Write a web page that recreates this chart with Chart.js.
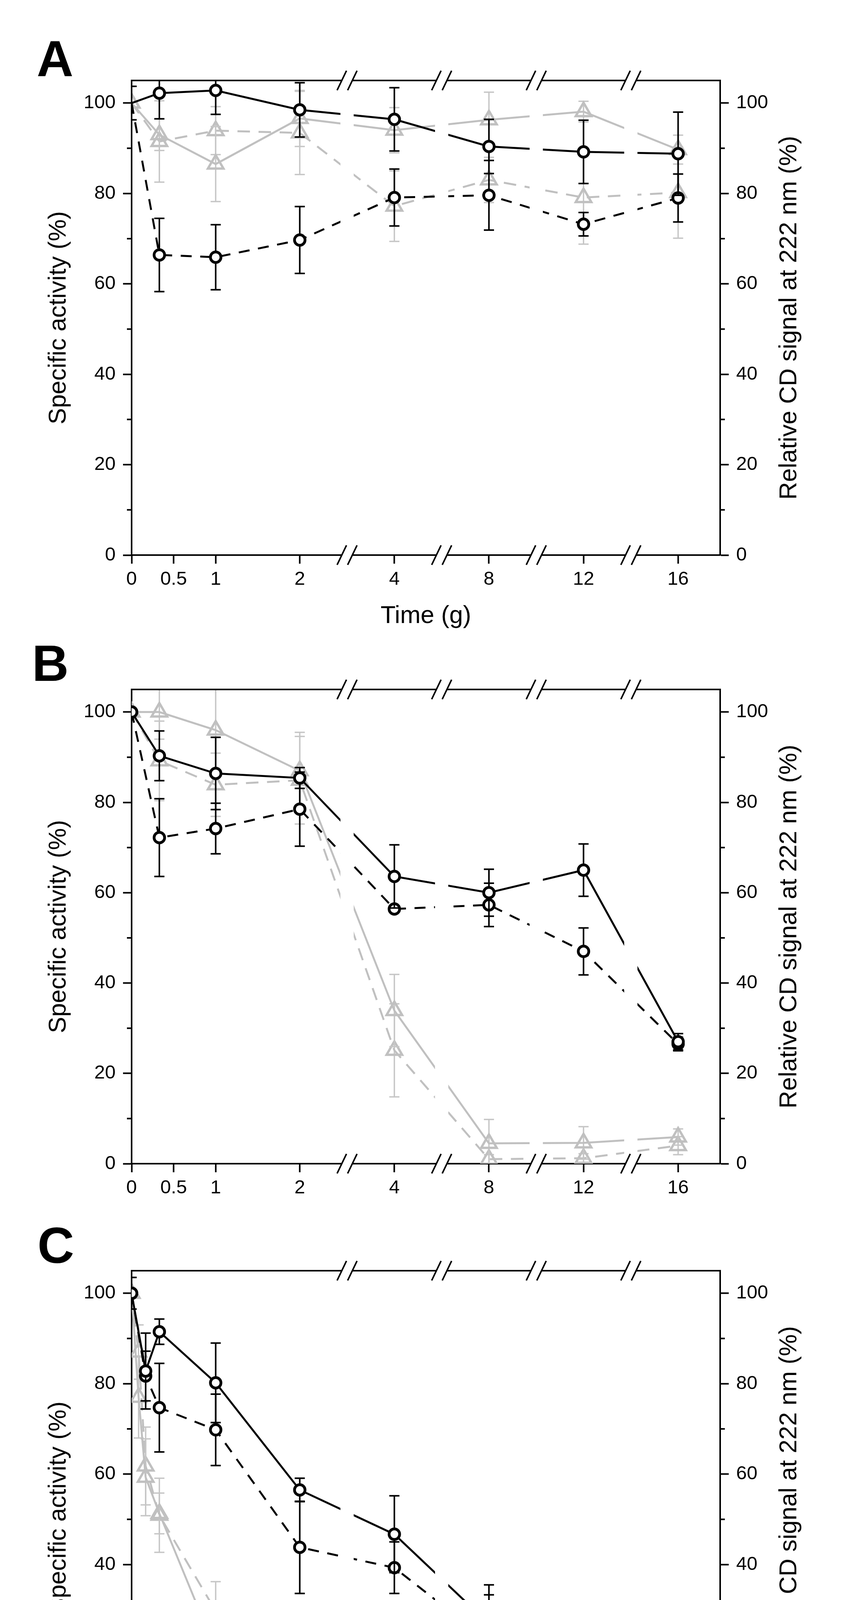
<!DOCTYPE html>
<html lang="en">
<head>
<meta charset="utf-8">
<title>Specific activity and CD signal over time</title>
<script src="https://cdn.jsdelivr.net/npm/chart.js@4.4.1/dist/chart.umd.min.js"></script>
<style>
    html, body { margin: 0; padding: 0; background: #fff; }
    body { position: relative; width: 2156px; height: 4730px; overflow: hidden; }
    canvas { position: absolute; left: 0; }
</style>
</head>
<body>
<canvas id="chartA" width="2156" height="1640" style="top:0px"></canvas>
<canvas id="chartB" width="2156" height="1460" style="top:1640px"></canvas>
<canvas id="chartC" width="2156" height="1630" style="top:3100px"></canvas>
<script>
// x axis: linear up to 2 h, then broken between every tick
const tickTimes  = [0, 0.5, 1, 2, 4, 8, 12, 16];
const tickLabels = ['0', '0.5', '1', '2', '4', '8', '12', '16'];
const tickSlots  = [0, 0.5, 1, 2, 3.125, 4.25, 5.375, 6.5];
const breakSlots = [2.5625, 3.6875, 4.8125, 5.9375];
const yTicks = [0, 20, 40, 60, 80, 100];
const yMinorTicks = [10, 30, 50, 70, 90];

// panel A
const timesA = [0, 0.33, 1, 2, 4, 8, 12, 16];
const aBlackSolid    = [100, 102.2, 102.8, 98.5, 96.4, 90.4, 89.2, 88.8];
const aBlackSolidErr = [3.7, 5.7, 5.3, 6.0, 7.0, 6.0, 7.0, 9.2];
const aBlackDash     = [100, 66.4, 65.9, 69.7, 79.1, 79.6, 73.2, 79.0];
const aBlackDashErr  = [0, 8.1, 7.2, 7.4, 6.3, 7.7, 2.6, 5.3];
const aGreySolid     = [100, 93.0, 86.5, 96.6, 94.0, 96.3, 98.1, 89.7];
const aGreySolidErr  = [0, 3.5, 8.3, 6.2, 5.0, 6.1, 2.3, 3.2];
const aGreyDash      = [100, 91.5, 93.9, 93.4, 77.2, 83.0, 79.1, 80.2];
const aGreyDashErr   = [0, 9.0, 5.3, 9.2, 7.8, 5.0, 10.3, 10.1];

// panel B
const timesB = [0, 0.33, 1, 2, 4, 8, 12, 16];
const bBlackSolid    = [100, 90.3, 86.4, 85.4, 63.6, 60.0, 65.0, 27.0];
const bBlackSolidErr = [0, 5.5, 8.0, 2.3, 7.0, 5.2, 5.8, 1.8];
const bBlackDash     = [100, 72.2, 74.2, 78.5, 56.4, 57.3, 47.0, 26.5];
const bBlackDashErr  = [0, 8.6, 5.6, 8.2, 0.6, 4.8, 5.2, 1.5];
const bGreySolid     = [100, 100, 96.0, 87.0, 33.9, 4.5, 4.6, 5.9];
const bGreySolidErr  = [0, 6.0, 9.5, 8.5, 8.0, 5.3, 3.6, 1.8];
const bGreyDash      = [100, 89.2, 83.9, 84.9, 25.1, 1.0, 1.2, 4.0];
const bGreyDashErr   = [0, 8.8, 7.0, 9.7, 10.3, 1.0, 1.0, 2.0];

// panel C
const timesCBlack = [0, 0.167, 0.33, 1, 2, 4, 8, 12, 16];
const timesCGrey  = [0, 0.083, 0.167, 0.33, 1, 2, 4, 8, 12, 16];
const cBlackSolid    = [100, 82.8, 91.5, 80.2, 56.5, 46.7, 26.9, 20.2, 2.7];
const cBlackSolidErr = [3.5, 8.4, 2.8, 8.8, 2.6, 8.5, 8.6, 6.0, 0.5];
const cBlackDash     = [100, 81.7, 74.7, 69.8, 43.8, 39.3, 22.9, 19.8, 2.7];
const cBlackDashErr  = [0, 5.5, 9.8, 7.9, 10.2, 5.7, 10.4, 7.0, 0.5];
const cGreySolid     = [100, 77.0, 59.3, 51.3, 21.0, 18.8, 2.0, 0.3, 4.3, 6.3];
const cGreySolidErr  = [0, 9.0, 8.5, 4.5, 6.5, 5.5, 1.5, 1.0, 1.0, 1.5];
const cGreyDash      = [100, 87.0, 61.8, 50.9, 29.7, 18.5, 3.8, 0.5, 0.5, 6.9];
const cGreyDashErr   = [0, 6.0, 8.6, 8.2, 6.5, 6.8, 2.0, 1.5, 1.0, 1.8];

const styles = {
    blackSolid: { color: '#000', dash: [], point: 'circle', radius: 13.5, pw: 7, fill: '#fff', errColor: '#000', errWidth: 4 },
    blackDash:  { color: '#000', dash: [28, 22], point: 'circle', radius: 13.5, pw: 7, fill: '#fff', errColor: '#000', errWidth: 4 },
    greySolid:  { color: '#c0c0c0', dash: [], point: 'triangle', radius: 23, pw: 6, fill: 'rgba(0,0,0,0)', errColor: '#c6c6c6', errWidth: 3.5 },
    greyDash:   { color: '#c0c0c0', dash: [32, 22], point: 'triangle', radius: 23, pw: 6, fill: 'rgba(0,0,0,0)', errColor: '#c6c6c6', errWidth: 3.5 }
};

Chart.defaults.font.family = "'Liberation Sans', Arial, sans-serif";
Chart.defaults.color = '#000';

function slot(t) {
    for (let i = 1; i < tickTimes.length; i++) {
        if (t <= tickTimes[i]) {
            const f = (t - tickTimes[i - 1]) / (tickTimes[i] - tickTimes[i - 1]);
            return tickSlots[i - 1] + f * (tickSlots[i] - tickSlots[i - 1]);
        }
    }
    return tickSlots[tickSlots.length - 1];
}

// error bars, line gaps at the breaks, top frame, break marks, minor ticks, right title, letter
const brokenAxisPlugin = {
    id: 'brokenAxis',
    beforeDatasetDraw(chart, args) {
        const ds = chart.data.datasets[args.index];
        if (!ds.errors) return;
        const { ctx, chartArea } = chart;
        const xs = chart.scales.x, ys = chart.scales.y;
        ctx.save();
        ctx.beginPath();
        ctx.rect(chartArea.left, chartArea.top, chartArea.width, chartArea.height);
        ctx.clip();
        ctx.strokeStyle = ds.errColor;
        ctx.lineWidth = ds.errWidth;
        ds.data.forEach((pt, i) => {
            const e = ds.errors[i];
            if (!e) return;
            const px = xs.getPixelForValue(pt.x);
            const y1 = ys.getPixelForValue(pt.y + e);
            const y2 = ys.getPixelForValue(pt.y - e);
            ctx.beginPath();
            ctx.moveTo(px, y1); ctx.lineTo(px, y2);
            ctx.moveTo(px - 13, y1); ctx.lineTo(px + 13, y1);
            ctx.moveTo(px - 13, y2); ctx.lineTo(px + 13, y2);
            ctx.stroke();
        });
        ctx.restore();
    },
    afterDatasetsDraw(chart) {
        const { ctx, chartArea } = chart;
        const xs = chart.scales.x;
        ctx.save();
        ctx.fillStyle = '#fff';
        breakSlots.forEach(b => {
            const cx = xs.getPixelForValue(b);
            ctx.fillRect(cx - 17, chartArea.top + 2, 34, chartArea.height - 4);
        });
        ctx.restore();
    },
    afterDraw(chart, args, opts) {
        const { ctx, chartArea } = chart;
        const { left, right, top, bottom } = chartArea;
        const xs = chart.scales.x, ys = chart.scales.y;
        ctx.save();
        ctx.strokeStyle = '#000';
        ctx.lineWidth = 4;
        ctx.beginPath();
        ctx.moveTo(left - 2, top);
        ctx.lineTo(right + 2, top);
        ctx.stroke();

        // minor ticks on both y axes
        ctx.beginPath();
        yMinorTicks.forEach(v => {
            const y = ys.getPixelForValue(v);
            ctx.moveTo(left, y); ctx.lineTo(left - 12, y);
            ctx.moveTo(right, y); ctx.lineTo(right + 12, y);
        });
        ctx.stroke();

        breakSlots.forEach(b => {
            const cx = xs.getPixelForValue(b);
            [top, bottom].forEach(cy => {
                ctx.fillStyle = '#fff';
                ctx.fillRect(cx - 13, cy - 4, 26, 8);
                ctx.beginPath();
                [-13.5, 13.5].forEach(dx => {
                    ctx.moveTo(cx + dx - 12, cy + 25);
                    ctx.lineTo(cx + dx + 12, cy - 25);
                });
                ctx.stroke();
            });
        });

        ctx.fillStyle = '#000';
        ctx.font = "63px 'Liberation Sans', Arial, sans-serif";
        ctx.textAlign = 'center';
        ctx.textBaseline = 'middle';
        ctx.translate(2022, (top + bottom) / 2);
        ctx.rotate(-Math.PI / 2);
        ctx.fillText('Relative CD signal at 222 nm (%)', 0, 0);
        ctx.setTransform(1, 0, 0, 1, 0, 0);
        ctx.restore();

        ctx.save();
        ctx.fillStyle = '#000';
        ctx.font = "bold 130px 'Liberation Sans', Arial, sans-serif";
        ctx.textAlign = 'left';
        ctx.textBaseline = 'alphabetic';
        ctx.fillText(opts.letter, opts.letterX, opts.letterY);
        ctx.restore();
    }
};

function buildDatasets(series, hideStart) {
    return series.map(s => {
        const st = styles[s.kind];
        const isBlack = st.point === 'circle';
        return {
            data: s.t.map((t, i) => ({ x: slot(t), y: s.v[i] })),
            errors: s.e,
            errColor: st.errColor,
            errWidth: st.errWidth,
            borderColor: st.color,
            borderWidth: 5,
            borderDash: st.dash,
            pointStyle: st.point,
            pointRadius: ctx => (hideStart && isBlack && ctx.dataIndex === 0) ? 0 : st.radius,
            pointBorderWidth: st.pw,
            pointBorderColor: st.color,
            pointBackgroundColor: st.fill,
            tension: 0,
            fill: false
        };
    });
}

function makePanel(id, series, p) {
    const canvas = document.getElementById(id);
    const H = canvas.height;
    const xTitle = p.xTitle
        ? { display: true, text: 'Time (g)', font: { size: 63 }, color: '#000',
            padding: { top: 0, bottom: H - p.bottom - 157 - 37.8 } }
        : { display: false };
    const config = {
        type: 'line',
        data: { datasets: buildDatasets(series, p.hideStart) },
        options: {
            responsive: false,
            animation: false,
            events: [],
            layout: { autoPadding: false, padding: { top: p.top, left: 0, right: 0, bottom: 0 } },
            plugins: {
                legend: { display: false },
                tooltip: { enabled: false },
                brokenAxis: { letter: p.letter, letterX: p.letterX, letterY: p.letterY }
            },
            scales: {
                x: {
                    type: 'linear',
                    min: 0,
                    max: 7,
                    afterFit(scale) { scale.height = H - p.bottom; },
                    afterBuildTicks(scale) { scale.ticks = tickSlots.map(v => ({ value: v })); },
                    ticks: {
                        autoSkip: false,
                        maxRotation: 0,
                        padding: 11,
                        font: { size: 49 },
                        color: '#000',
                        callback: (value, index) => tickLabels[index]
                    },
                    grid: { drawOnChartArea: false, drawTicks: true, tickLength: 22, tickWidth: 4, tickColor: '#000' },
                    border: { display: true, color: '#000', width: 4 },
                    title: xTitle
                },
                y: {
                    type: 'linear',
                    position: 'left',
                    min: 0,
                    max: 105,
                    afterFit(scale) { scale.width = 337; },
                    afterBuildTicks(scale) { scale.ticks = yTicks.map(v => ({ value: v })); },
                    ticks: { padding: 19, font: { size: 49 }, color: '#000' },
                    grid: { drawOnChartArea: false, drawTicks: true, tickLength: 22, tickWidth: 4, tickColor: '#000' },
                    border: { display: true, color: '#000', width: 4 },
                    title: { display: true, text: 'Specific activity (%)', font: { size: 63 }, color: '#000',
                             padding: { top: 113, bottom: 0 } }
                },
                y2: {
                    type: 'linear',
                    position: 'right',
                    min: 0,
                    max: 105,
                    afterFit(scale) { scale.width = 312; },
                    afterBuildTicks(scale) { scale.ticks = yTicks.map(v => ({ value: v })); },
                    ticks: { padding: 19, font: { size: 49 }, color: '#000' },
                    grid: { drawOnChartArea: false, drawTicks: true, tickLength: 22, tickWidth: 4, tickColor: '#000' },
                    border: { display: true, color: '#000', width: 4 }
                }
            }
        },
        plugins: [brokenAxisPlugin]
    };
    return new Chart(canvas, config);
}

const chartA = makePanel('chartA', [
    { kind: 'blackSolid', t: timesA, v: aBlackSolid, e: aBlackSolidErr },
    { kind: 'blackDash',  t: timesA, v: aBlackDash,  e: aBlackDashErr },
    { kind: 'greySolid',  t: timesA, v: aGreySolid,  e: aGreySolidErr },
    { kind: 'greyDash',   t: timesA, v: aGreyDash,   e: aGreyDashErr }
], { top: 206, bottom: 1421, xTitle: true, hideStart: true, letter: 'A', letterX: 94, letterY: 195 });

const chartB = makePanel('chartB', [
    { kind: 'blackSolid', t: timesB, v: bBlackSolid, e: bBlackSolidErr },
    { kind: 'blackDash',  t: timesB, v: bBlackDash,  e: bBlackDashErr },
    { kind: 'greySolid',  t: timesB, v: bGreySolid,  e: bGreySolidErr },
    { kind: 'greyDash',   t: timesB, v: bGreyDash,   e: bGreyDashErr }
], { top: 125, bottom: 1339, xTitle: false, letter: 'B', letterX: 82, letterY: 103 });

const chartC = makePanel('chartC', [
    { kind: 'blackSolid', t: timesCBlack, v: cBlackSolid, e: cBlackSolidErr },
    { kind: 'blackDash',  t: timesCBlack, v: cBlackDash,  e: cBlackDashErr },
    { kind: 'greySolid',  t: timesCGrey,  v: cGreySolid,  e: cGreySolidErr },
    { kind: 'greyDash',   t: timesCGrey,  v: cGreyDash,   e: cGreyDashErr }
], { top: 153, bottom: 1368, xTitle: true, letter: 'C', letterX: 96, letterY: 133 });
</script>
</body>
</html>
